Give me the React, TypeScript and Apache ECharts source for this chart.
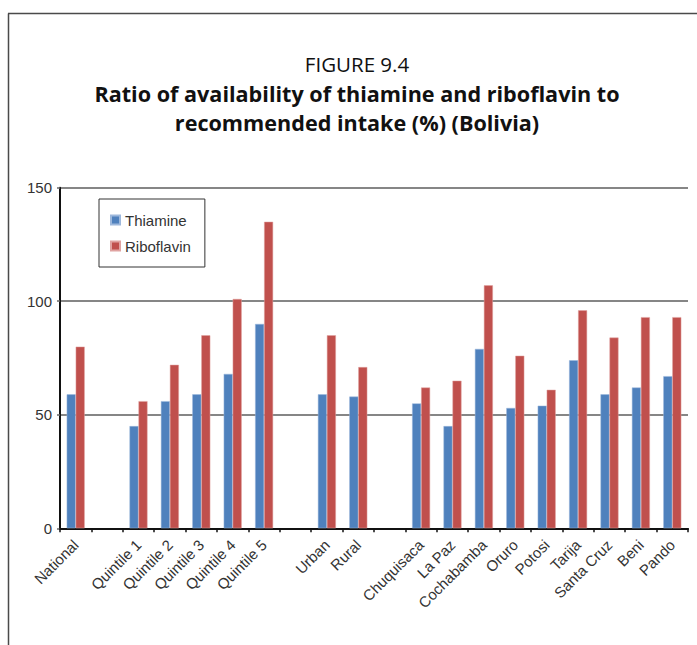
import React, { useEffect, useRef } from "react";
import * as echarts from "echarts";

const categories = [
  "National", " ", "Quintile 1", "Quintile 2", "Quintile 3", "Quintile 4", "Quintile 5",
  "  ", "Urban", "Rural", "   ", "Chuquisaca", "La Paz", "Cochabamba", "Oruro",
  "Potosi", "Tarija", "Santa Cruz", "Beni", "Pando",
];
const thiamine = [59, null, 45, 56, 59, 68, 90, null, 59, 58, null, 55, 45, 79, 53, 54, 74, 59, 62, 67];
const riboflavin = [80, null, 56, 72, 85, 101, 135, null, 85, 71, null, 62, 65, 107, 76, 61, 96, 84, 93, 93];
const yTicks = { min: 0, max: 150, interval: 50 };

const FONT = "'Liberation Sans', Arial, sans-serif";
const TITLE_FONT = "'Open Sans', 'Liberation Sans', sans-serif";

export default function App() {
  const ref = useRef<HTMLDivElement>(null);
  useEffect(() => {
    if (!ref.current) return;
    const chart = echarts.init(ref.current, undefined, { renderer: "svg" });
    chart.setOption({
      animation: false,
      backgroundColor: "#ffffff",
      graphic: [
        { type: "line", shape: { x1: 8, y1: 13.5, x2: 697, y2: 13.5 }, style: { stroke: "#4a4a4a", lineWidth: 1.5 } },
        { type: "line", shape: { x1: 8.5, y1: 13.5, x2: 8.5, y2: 645 }, style: { stroke: "#4a4a4a", lineWidth: 1.5 } },
        {
          type: "text", x: 357, y: 64,
          style: { text: "FIGURE 9.4", align: "center", verticalAlign: "middle", font: `20.5px ${TITLE_FONT}`, fill: "#111" },
        },
        {
          type: "text", x: 357, y: 93,
          style: { text: "Ratio of availability of thiamine and riboflavin to", align: "center", verticalAlign: "middle", font: `bold 21.6px ${TITLE_FONT}`, fill: "#111" },
        },
        {
          type: "text", x: 357, y: 122,
          style: { text: "recommended intake (%) (Bolivia)", align: "center", verticalAlign: "middle", font: `bold 21.6px ${TITLE_FONT}`, fill: "#111" },
        },
      ],
      legend: {
        left: 99,
        top: 199,
        orient: "vertical",
        itemWidth: 9,
        itemHeight: 9,
        itemGap: 8,
        padding: [12, 14, 12, 11],
        borderColor: "#333",
        borderWidth: 1,
        icon: "rect",
        textStyle: { fontFamily: FONT, fontSize: 15, color: "#333", lineHeight: 18 },
        data: ["Thiamine", "Riboflavin"],
      },
      grid: { left: 60, right: 9, top: 187.7, bottom: 116.7, containLabel: false },
      xAxis: {
        type: "category",
        data: categories,
        axisLine: { lineStyle: { color: "#111", width: 2 } },
        axisTick: { show: true, length: 4, lineStyle: { color: "#111", width: 1.5 } },
        axisLabel: {
          interval: 0,
          rotate: 45,
          margin: 14,
          fontFamily: FONT,
          fontSize: 15,
          color: "#333",
        },
      },
      yAxis: {
        type: "value",
        min: yTicks.min,
        max: yTicks.max,
        interval: yTicks.interval,
        axisLine: { show: true, lineStyle: { color: "#111", width: 2 } },
        axisTick: { show: true, length: 3, lineStyle: { color: "#666", width: 1.5 } },
        axisLabel: { fontFamily: FONT, fontSize: 15, color: "#333", margin: 8 },
        splitLine: { show: true, lineStyle: { color: "#5e5e5e", width: 1.5 } },
      },
      series: [
        {
          name: "Thiamine",
          type: "bar",
          data: thiamine,
          barWidth: 9,
          barGap: "0%",
          itemStyle: { color: "#4F81BD", borderColor: "#9db8dc", borderWidth: 0.5 },
        },
        {
          name: "Riboflavin",
          type: "bar",
          data: riboflavin,
          barWidth: 9,
          barGap: "0%",
          itemStyle: { color: "#C0504D", borderColor: "#e0a3a1", borderWidth: 0.5 },
        },
      ],
    });
    return () => chart.dispose();
  }, []);
  return (
    <div
      ref={ref}
      style={{ position: "fixed", left: 0, top: 0, width: 697, height: 645 }}
    />
  );
}
